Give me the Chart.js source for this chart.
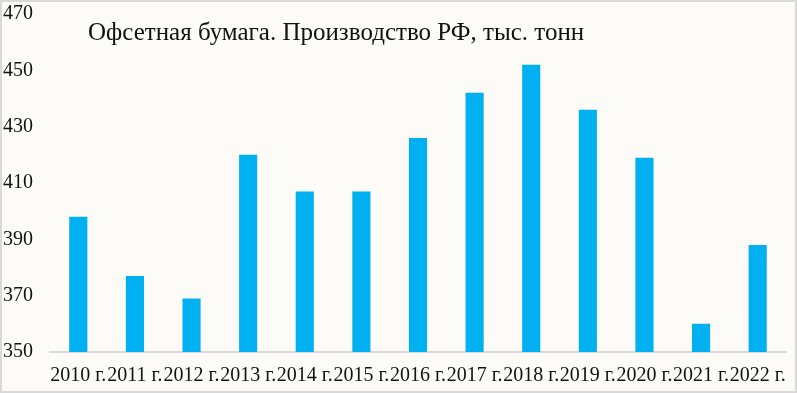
<!DOCTYPE html>
<html>
<head>
<meta charset="utf-8">
<script src="https://cdn.jsdelivr.net/npm/chart.js@4"></script>
<style>
  html, body { margin: 0; padding: 0; background: #fff; }
  #wrap {
    position: absolute; left: 0; top: 0;
    width: 797px; height: 393px;
    box-sizing: border-box;
    border: 2px solid #d9d9d9;
    background: #fcfbf7;
  }
</style>
</head>
<body>
<div id="wrap"><canvas id="chart"></canvas></div>
<script>
// Данные
const years = ['2010 г.', '2011 г.', '2012 г.', '2013 г.', '2014 г.', '2015 г.', '2016 г.',
               '2017 г.', '2018 г.', '2019 г.', '2020 г.', '2021 г.', '2022 г.'];
const production = [398, 377, 369, 420, 407, 407, 426, 442, 452, 436, 419, 360, 388];
const chartTitle = 'Офсетная бумага. Производство РФ, тыс. тонн';

const serif = "'Liberation Serif', 'DejaVu Serif', serif";

// Заголовок внутри области графика
const titlePlugin = {
    id: 'innerTitle',
    afterDraw(chart) {
        const { ctx, chartArea } = chart;
        ctx.save();
        ctx.font = "25px " + serif;
        ctx.fillStyle = '#111';
        ctx.textBaseline = 'middle';
        ctx.fillText(chartTitle, chartArea.left + 38, chartArea.top + 19);
        ctx.restore();
    }
};

const ctx = document.getElementById('chart').getContext('2d');
new Chart(ctx, {
    type: 'bar',
    data: {
        labels: years,
        datasets: [{
            data: production,
            backgroundColor: '#00b0f0',
            categoryPercentage: 1.0,
            barPercentage: 0.32
        }]
    },
    options: {
        responsive: true,
        maintainAspectRatio: false,
        animation: false,
        layout: { padding: { top: 12, right: 9, left: 0, bottom: 0 } },
        plugins: { legend: { display: false }, tooltip: { enabled: false } },
        scales: {
            x: {
                grid: { display: false, drawTicks: false },
                border: { display: true, color: '#d9d9d9', width: 2 },
                ticks: { color: '#111', font: { family: serif, size: 20 }, padding: 12, maxRotation: 0, autoSkip: false },
                afterFit(scale) {
                    scale.height = 39;
                    scale.paddingLeft = 0;
                    scale.paddingRight = 0;
                }
            },
            y: {
                min: 350,
                max: 470,
                grid: { display: false, drawTicks: false },
                border: { display: false },
                ticks: { stepSize: 20, color: '#111', font: { family: serif, size: 20 }, padding: 17 },
                afterFit(scale) {
                    scale.width = 48;
                    scale.paddingTop = 0;
                    scale.paddingBottom = 0;
                }
            }
        }
    },
    plugins: [titlePlugin]
});
</script>
</body>
</html>
